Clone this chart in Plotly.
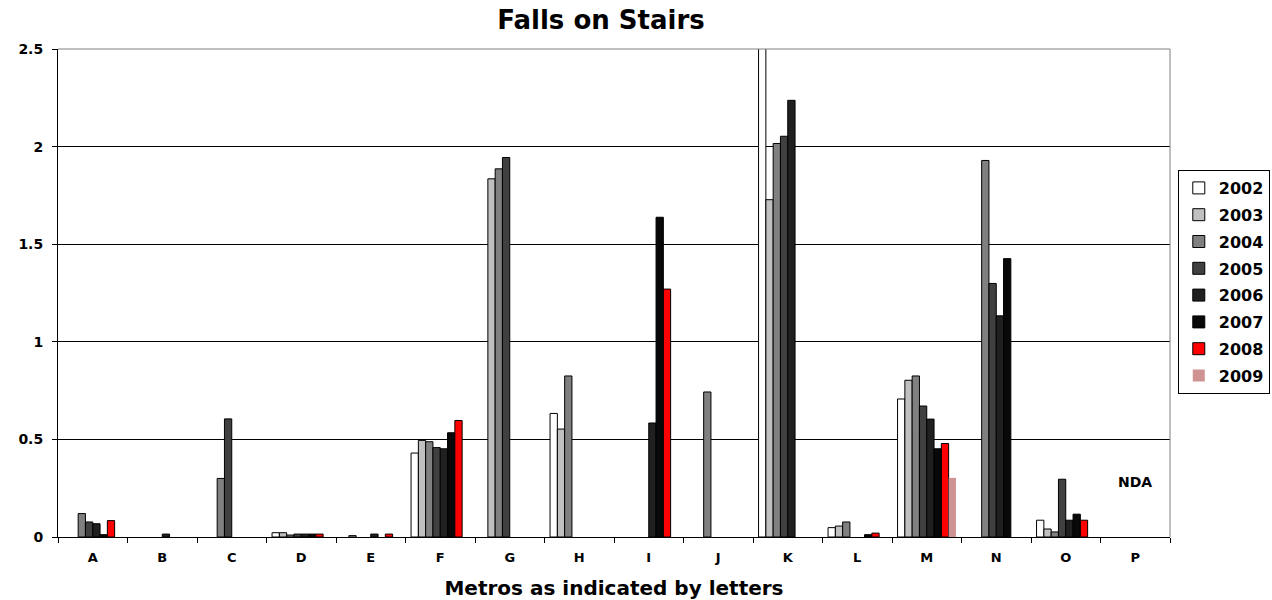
import plotly.graph_objects as go

categories = list("ABCDEFGHIJKLMNOP")
years = ["2002", "2003", "2004", "2005", "2006", "2007", "2008", "2009"]

v2002 = [None, None, None, 0.022, None, 0.43, None, 0.633, None, None, 3.0, 0.048, 0.707, None, 0.086, None]
v2003 = [None, None, None, 0.022, 0.007, 0.495, 1.835, 0.553, None, None, 1.728, 0.056, 0.803, None, 0.041, None]
v2004 = [0.12, None, 0.30, 0.01, None, 0.488, 1.886, 0.825, None, 0.743, 2.016, 0.077, 0.825, 1.929, 0.026, None]
v2005 = [0.077, None, 0.605, 0.015, None, 0.458, 1.944, None, None, None, 2.053, None, 0.671, 1.299, 0.296, None]
v2006 = [0.068, 0.015, None, 0.015, 0.015, 0.452, None, None, 0.584, None, 2.237, None, 0.604, 1.133, 0.086, None]
v2007 = [0.012, None, None, 0.015, None, 0.534, None, None, 1.638, None, None, 0.012, 0.452, 1.426, 0.117, None]
v2008 = [0.084, None, None, 0.015, 0.015, 0.597, None, None, 1.27, None, None, 0.02, 0.479, None, 0.086, None]
v2009 = [None, None, None, None, None, None, None, None, None, None, None, None, 0.303, None, None, None]

series = [v2002, v2003, v2004, v2005, v2006, v2007, v2008, v2009]
colors = ["#FFFFFF", "#C0C0C0", "#808080", "#404040", "#202020", "#080808", "#FF0000", "#D09393"]
line_widths = [1, 1, 1, 1, 1, 1, 1, 0]

nda_label = "NDA"
nda_category = "P"
nda_y = 0.28

FONT = "DejaVu Sans"

fig = go.Figure()
for yr, vals, col, lw in zip(years, series, colors, line_widths):
    fig.add_trace(go.Bar(
        name=yr, x=categories, y=vals, legendgroup=yr,
        marker=dict(color=col, line=dict(color="#000000", width=lw)),
    ))

fig.add_annotation(x=nda_category, y=nda_y, text=nda_label, showarrow=False,
                   font=dict(family=FONT, size=14, color="black", weight="bold"))

# plot-area border (top and right, gray)
fig.add_shape(type="line", xref="paper", yref="paper", x0=0, x1=1, y0=1, y1=1,
              line=dict(color="#808080", width=1))
fig.add_shape(type="line", xref="paper", yref="paper", x0=1, x1=1, y0=0, y1=1,
              line=dict(color="#808080", width=1))

fig.update_layout(
    width=1272, height=600,
    margin=dict(l=58, r=102, t=49, b=63, autoexpand=False),
    paper_bgcolor="white", plot_bgcolor="white",
    barmode="group", bargap=0.16, bargroupgap=0,
    font=dict(family=FONT, size=13, color="black"),
    title=dict(text="<b>Falls on Stairs</b>", x=(601 - 58) / 1112, xref="paper",
               xanchor="center", y=1 - 20 / 600, yanchor="middle",
               font=dict(family=FONT, size=26, color="black")),
    legend=dict(x=1.007, xanchor="left", y=(537 - 170) / 488, yanchor="top",
                bgcolor="white", bordercolor="black", borderwidth=1,
                font=dict(family=FONT, size=16, color="black", weight="bold"),
                itemwidth=30, tracegroupgap=3, traceorder="grouped"),
    showlegend=True,
)

fig.update_xaxes(
    type="category", categoryorder="array", categoryarray=categories,
    automargin=False,
    showline=True, linecolor="black", linewidth=1,
    ticks="outside", tickson="boundaries", ticklen=5, tickcolor="black",
    ticklabelstandoff=8,
    tickfont=dict(family=FONT, size=13, color="black", weight="bold"),
    showgrid=False,
    title=dict(text="<b>Metros as indicated by letters</b>", standoff=20,
               font=dict(family=FONT, size=20, color="black")),
)
fig.update_yaxes(
    range=[0, 2.5], dtick=0.5, tick0=0,
    automargin=False,
    showline=True, linecolor="black", linewidth=1,
    ticks="outside", ticklen=5, tickcolor="black",
    ticklabelstandoff=6,
    tickfont=dict(family=FONT, size=14, color="black", weight="bold"),
    showgrid=True, gridcolor="black", gridwidth=1, zeroline=False,
)

fig.write_html(
    "out.html",
    config={"displayModeBar": False},
    post_script="document.body.style.margin='0';document.body.style.overflow='hidden';",
)
